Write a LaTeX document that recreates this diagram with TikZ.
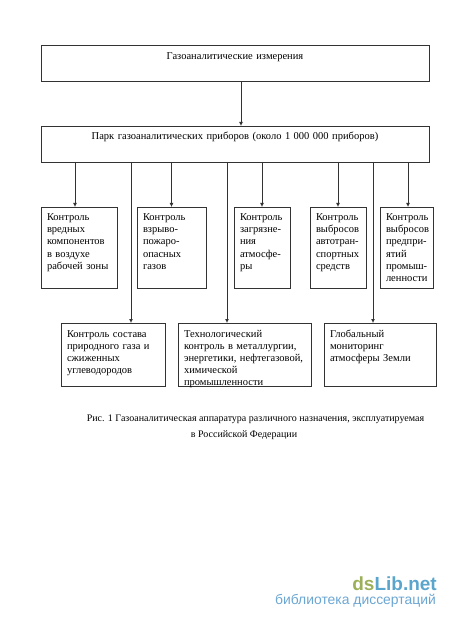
\documentclass[tikz,border=0pt]{standalone}
\usepackage{fontspec}
\setmainfont{Liberation Serif}
\setsansfont{Liberation Sans}
\usetikzlibrary{arrows.meta,positioning}
\definecolor{Ink}{HTML}{333333}
\definecolor{Olive}{HTML}{9CB05A}
\definecolor{Sky}{HTML}{5AA5CC}
\definecolor{PaleSky}{HTML}{6BA6D2}
\tikzset{
  arr/.style={-{Latex[length=4pt,width=4pt]},line width=0.9pt,draw=Ink},
  bigbox/.style={draw=Ink,line width=0.9pt,outer sep=0pt,inner sep=0pt,font=\fontsize{10.5}{12}\selectfont,text height=14pt,text depth=22pt,text width=388pt,align=center},
  ctrlbox/.style={draw=Ink,line width=0.9pt,outer sep=0pt,inner ysep=0pt,inner xsep=6pt,align=left,font=\fontsize{10.5}{12}\selectfont,text height=14pt,text depth=67pt,text width=#1-12pt},
  lowbox/.style={draw=Ink,line width=0.9pt,outer sep=0pt,inner ysep=0pt,inner xsep=6pt,align=left,font=\fontsize{10.5}{12}\selectfont,text height=14pt,text depth=49pt,text width=#1-12pt},
  capstyle/.style={font=\fontsize{10}{11}\selectfont,anchor=base}
}
\begin{document}
\begin{tikzpicture}[x=1pt,y=-1pt]
  \useasboundingbox (0,0) rectangle (450,620);
  \node[bigbox,anchor=north west] (meas) at (41,45.7) {Газоаналитические измерения};
  \node[bigbox,anchor=north west] (park) at (41,126) {Парк газоаналитических приборов (около 1 000 000 приборов)};
  \node[ctrlbox=76pt,anchor=north west] (air) at (41,207) {Контроль\\вредных\\компонентов\\в воздухе\\рабочей зоны};
  \node[ctrlbox=69pt,right=20pt of air] (blast) {Контроль\\взрыво-\\пожаро-\\опасных\\газов};
  \node[ctrlbox=56pt,right=28pt of blast] (poll) {Контроль\\загрязне-\\ния\\атмосфе-\\ры};
  \node[ctrlbox=56pt,right=20pt of poll] (auto) {Контроль\\выбросов\\автотран-\\спортных\\средств};
  \node[ctrlbox=53pt,right=14pt of auto] (ind) {Контроль\\выбросов\\\mbox{предпри-}\\ятий\\\mbox{промыш-}\\ленности};
  \node[lowbox=104pt,anchor=north west] (gas) at (61,323) {Контроль состава\\природного газа и\\сжиженных\\углеводородов};
  \node[lowbox=133pt,right=13pt of gas] (tech) {Технологический\\контроль в металлургии,\\энергетики, нефтегазовой,\\химической\\промышленности};
  \node[lowbox=112pt,right=13pt of tech] (globe) {Глобальный\\мониторинг\\атмосферы Земли};
  \coordinate (tipmain) at ([xshift=200pt]park.north west);
  \coordinate (tipair) at ([xshift=34pt]air.north west);
  \coordinate (tipind) at ([xshift=28pt]ind.north west);
  \coordinate (tipgas) at ([xshift=70pt]gas.north west);
  \coordinate (tiptech) at ([xshift=49pt]tech.north west);
  \coordinate (tipglobe) at ([xshift=49pt]globe.north west);
  \draw[arr] (meas.south -| tipmain) -- (tipmain);
  \draw[arr] (park.south -| tipair) -- (tipair);
  \draw[arr] (park.south -| blast.north) -- (blast.north);
  \draw[arr] (park.south -| poll.north) -- (poll.north);
  \draw[arr] (park.south -| auto.north) -- (auto.north);
  \draw[arr] (park.south -| tipind) -- (tipind);
  \draw[arr] (park.south -| tipgas) -- (tipgas);
  \draw[arr] (park.south -| tiptech) -- (tiptech);
  \draw[arr] (park.south -| tipglobe) -- (tipglobe);
  \node[capstyle] (cap1) at (255.5,421) {Рис. 1 Газоаналитическая аппаратура различного назначения, эксплуатируемая};
  \node[capstyle] (cap2) at (244,437) {в Российской Федерации};
  \node[font=\sffamily\bfseries\fontsize{19}{22}\selectfont,anchor=base east,inner sep=0pt] (brand) at (437,590) {\textcolor{Olive}{ds}\textcolor{Sky}{Lib.net}};
  \node[font=\sffamily\fontsize{13.9}{16}\selectfont,text=PaleSky,anchor=base east,inner sep=0pt] (libname) at (436,604) {библиотека диссертаций};
\end{tikzpicture}
\end{document}
